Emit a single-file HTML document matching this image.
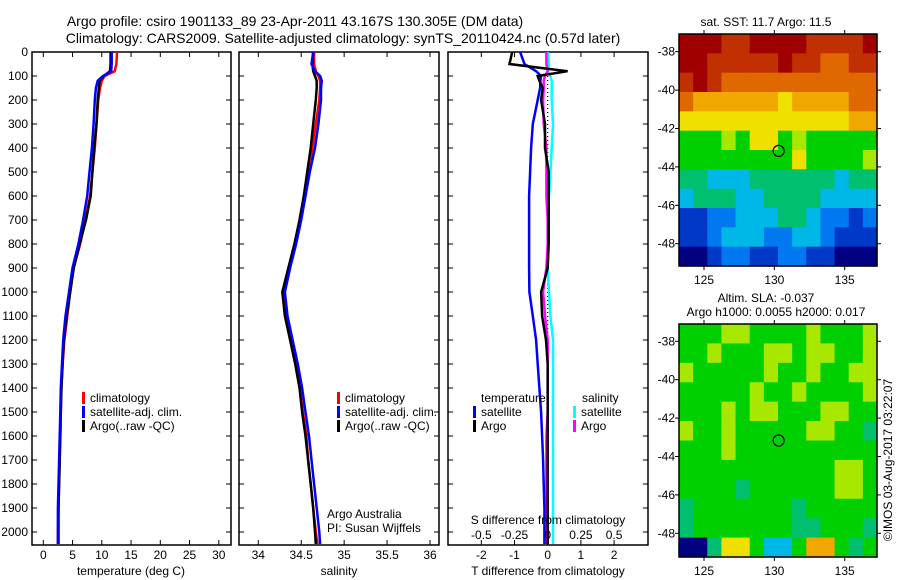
<!DOCTYPE html>
<html><head><meta charset="utf-8"><style>
body{margin:0;background:#fff}
svg{display:block;font-family:"Liberation Sans",sans-serif}
text{fill:#000}
</style></head><body>
<svg id="c" width="900" height="580" viewBox="0 0 900 580">
<text x="295" y="26" font-size="14" text-anchor="middle">Argo profile: csiro 1901133_89 23-Apr-2011 43.167S 130.305E (DM data)</text>
<text x="343" y="43" font-size="14" text-anchor="middle">Climatology: CARS2009. Satellite-adjusted climatology: synTS_20110424.nc (0.57d later)</text>
<text x="766" y="26" font-size="12" text-anchor="middle">sat. SST: 11.7 Argo: 11.5</text>
<text x="766" y="302" font-size="12" text-anchor="middle">Altim. SLA: -0.037</text>
<text x="776" y="316" font-size="12" text-anchor="middle">Argo h1000: 0.0055 h2000: 0.017</text>
<text transform="translate(892,460) rotate(-90)" font-size="12" text-anchor="middle">©IMOS 03-Aug-2017 03:22:07</text>
<g id="layer"></g>
</svg>
<script>
const depths=[0,50,80,100,120,150,200,300,400,500,600,700,800,900,1000,1100,1200,1300,1400,1500,1600,1700,1800,1900,2000,2050];
const tClim=[12.6,12.5,12.2,10.5,10.0,9.7,9.4,9.1,8.8,8.4,8.0,7.2,6.3,5.2,4.6,4.1,3.6,3.3,3.1,3.0,2.9,2.8,2.7,2.6,2.5,2.5];
const tArgo=[11.5,11.5,11.4,10.3,9.6,9.5,9.3,9.1,8.7,8.4,8.1,7.3,6.2,5.2,4.6,4.0,3.5,3.3,3.1,3.0,2.9,2.8,2.7,2.6,2.6,2.6];
const tSat=[11.7,11.7,11.6,10.2,9.3,9.0,8.8,8.6,8.3,7.9,7.5,6.8,6.0,5.0,4.4,3.8,3.4,3.2,3.0,2.9,2.8,2.7,2.6,2.5,2.5,2.5];
const sClim=[34.65,34.65,34.67,34.70,34.72,34.72,34.71,34.67,34.63,34.58,34.54,34.49,34.43,34.36,34.30,34.33,34.39,34.44,34.49,34.52,34.56,34.58,34.61,34.64,34.67,34.69];
const sArgo=[34.64,34.63,34.64,34.66,34.68,34.68,34.67,34.64,34.61,34.57,34.53,34.48,34.42,34.35,34.28,34.31,34.37,34.43,34.48,34.51,34.55,34.58,34.61,34.64,34.66,34.67];
const sSat=[34.64,34.62,34.66,34.72,34.74,34.73,34.73,34.70,34.66,34.60,34.55,34.50,34.44,34.37,34.31,34.34,34.40,34.46,34.51,34.55,34.59,34.62,34.65,34.68,34.71,34.72];
const dTsat=[-0.83,-0.7,-0.35,-0.2,-0.22,-0.23,-0.3,-0.45,-0.5,-0.53,-0.56,-0.56,-0.56,-0.56,-0.55,-0.45,-0.35,-0.3,-0.25,-0.2,-0.17,-0.14,-0.12,-0.1,-0.1,-0.1];
const dTargo=[-1.07,-1.15,0.6,-0.3,-0.25,-0.15,-0.2,-0.08,-0.08,0.03,0.03,0.03,0.03,0.0,-0.2,-0.17,-0.05,0.0,0.0,0.0,0.0,0.0,0.0,0.0,0.0,0.0];
const dSsat=[0.0,0.01,0.0,0.02,0.03,0.03,0.03,0.04,0.03,0.02,0.01,0.0,0.0,0.0,0.01,0.02,0.04,0.04,0.04,0.04,0.04,0.04,0.04,0.04,0.04,0.04];
const dSargo=[-0.01,-0.01,0.0,-0.02,-0.03,-0.03,-0.035,-0.03,-0.01,-0.01,-0.01,0.0,0.0,-0.01,-0.035,-0.02,0.0,0.0,0.0,0.0,-0.01,-0.01,-0.01,-0.01,-0.01,-0.01];
const depthTicks=[0,100,200,300,400,500,600,700,800,900,1000,1100,1200,1300,1400,1500,1600,1700,1800,1900,2000];
const tTicks=[0,5,10,15,20,25,30];
const sTicks=[34,34.5,35,35.5,36];
const sTickLabels=["34","34.5","35","35.5","36"];
const dtTicks=[-2,-1,0,1,2];
const dsTicks=[-0.5,-0.25,0,0.25,0.5];
const dsTickLabels=["-0.5","-0.25","0","0.25","0.5"];
const lonTicks=[125,130,135];
const latTicks=[-38,-40,-42,-44,-46,-48];
const argoLon=130.305, argoLat=-43.167;
const sstGrid=[
[11,11,11,10,10,11,11,11,11,10,10,10,10,11],
[11,11,10,10,10,10,10,11,10,10,9,9,10,10],
[10,11,10,9,9,9,9,9,9,9,9,9,9,9],
[9,8,8,8,8,8,8,7,8,8,8,8,9,9],
[7,7,7,7,7,7,7,7,7,7,7,7,8,8],
[5,5,5,6,5,7,7,5,6,5,5,5,5,5],
[5,5,5,5,5,5,5,5,7,5,5,5,5,6],
[4,4,3,3,3,4,4,4,4,4,4,3,4,4],
[3,4,4,4,3,3,4,4,4,4,3,3,3,3],
[1,1,2,2,3,3,3,4,4,3,2,2,1,2],
[1,1,2,3,3,3,2,2,3,3,2,1,1,1],
[0,0,1,2,2,1,1,2,2,1,1,0,0,0]];
const slaGrid=[
[5,5,5,6,6,5,5,5,5,6,5,5,5,6],
[5,5,6,5,5,5,6,6,5,6,6,5,5,6],
[6,5,5,5,5,5,6,5,5,6,5,5,6,6],
[5,5,5,5,5,6,5,5,6,5,5,5,5,6],
[5,5,5,6,5,6,6,5,5,5,6,6,5,5],
[6,5,5,6,5,5,5,5,5,6,6,5,5,4],
[5,5,5,6,5,5,5,5,5,5,5,5,5,5],
[5,5,5,5,5,5,5,5,5,5,5,6,6,5],
[5,5,5,5,4,5,5,5,5,5,5,6,6,5],
[4,5,5,5,5,5,5,5,4,5,5,5,5,5],
[4,5,5,5,5,5,5,5,4,4,5,5,5,4],
[0,0,4,7,7,5,3,3,5,8,8,5,4,5]];
const palette=["#000080","#0038c8","#0078f0","#00b8e8","#00c070","#00d000","#a8e800","#f0e000","#f0a800","#e06800","#c03000","#a00000"];

const NS="http://www.w3.org/2000/svg";
const L=document.getElementById('layer');
function el(t,a,p){const e=document.createElementNS(NS,t);for(const k in a)e.setAttribute(k,a[k]);(p||L).appendChild(e);return e;}
const Y0=52,YPX=0.24,YB=545;
const yD=d=>Y0+d*YPX;
const xT=v=>43.3+v*5.85;
const xS=v=>258.3+(v-34)*85.85;
const xDT=v=>547.7+v*33.2;
const xDS=v=>547.7+v*132.8;

function panel(x0,x1,name){
  const r=el('rect',{x:x0,y:Y0,width:x1-x0,height:YB-Y0,fill:'none',stroke:'#000','stroke-width':1.5});
  
  
}
function line(xf,vals,color,name){
  let d='';depths.forEach((dp,i)=>{d+=(i?'L':'M')+xf(vals[i]).toFixed(1)+' '+yD(dp).toFixed(1);});
  const p=el('path',{d:d,fill:'none',stroke:color,'stroke-width':2.5,'stroke-linejoin':'miter'});
  
  
}
function xticks(xf,ticks,labels,x0,x1,name,top){
  ticks.forEach((t,i)=>{
    const x=xf(t);
    el('line',{x1:x,x2:x,y1:YB,y2:YB-5,stroke:'#000'});
    if(top!==false) el('line',{x1:x,x2:x,y1:Y0,y2:Y0+5,stroke:'#000'});
    const tx=el('text',{x:x,y:YB+14,'font-size':12,'text-anchor':'middle'});
    tx.textContent=labels?labels[i]:String(t);
    
    
  });
}
function yticks(x0,x1,labels){
  depthTicks.forEach(d=>{
    const y=yD(d);
    el('line',{x1:x0,x2:x0+5,y1:y,y2:y,stroke:'#000'});
    el('line',{x1:x1,x2:x1-5,y1:y,y2:y,stroke:'#000'});
    if(labels){const t=el('text',{x:x0-4,y:y+4,'font-size':12,'text-anchor':'end'});t.textContent=d;
      
      }
  });
}
function txt(x,y,s,name,anchor){const t=el('text',{x:x,y:y,'font-size':12,'text-anchor':anchor||'start'});t.textContent=s;
  
  return t;}
function legend(x,y,color,s,name){
  el('rect',{x:x,y:y-10,width:3,height:12,fill:color});
  txt(x+8,y,s,name);
}
// Panel 1
panel(32,231,'temperature-panel');
yticks(32,231,true);xticks(xT,tTicks,null,32,231,'temperature');
line(xT,tClim,'#f00','temp-climatology-line');
line(xT,tArgo,'#000','temp-argo-line');
line(xT,tSat,'#00f','temp-satellite-line');
txt(131,575,'temperature (deg C)','temperature-axis-title','middle');
legend(82,402,'#f00','climatology','legend-climatology');
legend(82,416,'#00f','satellite-adj. clim.','legend-satellite');
legend(82,430,'#000','Argo(..raw -QC)','legend-argo');
// Panel 2
panel(239,439,'salinity-panel');
yticks(239,439,false);xticks(xS,sTicks,sTickLabels,239,439,'salinity');
line(xS,sClim,'#f00','sal-climatology-line');
line(xS,sArgo,'#000','sal-argo-line');
line(xS,sSat,'#00f','sal-satellite-line');
txt(339,575,'salinity','salinity-axis-title','middle');
legend(337,402,'#f00','climatology','legend-climatology-2');
legend(337,416,'#00f','satellite-adj. clim.','legend-satellite-2');
legend(337,430,'#000','Argo(..raw -QC)','legend-argo-2');
txt(327,518,'Argo Australia','institution-label');
txt(327,532,'PI: Susan Wijffels','pi-label');
// Panel 3
panel(448,648,'difference-panel');
yticks(448,648,false);xticks(xDT,dtTicks,null,448,648,'t-diff',true);
const zx=xDT(0);
el('line',{x1:zx,x2:zx,y1:Y0,y2:YB,stroke:'#000','stroke-dasharray':'1,3','stroke-width':1.2});
line(xDS,dSsat,'#0ff','sal-diff-satellite-line');
line(xDS,dSargo,'#f0f','sal-diff-argo-line');
line(xDT,dTsat,'#00f','temp-diff-satellite-line');
line(xDT,dTargo,'#000','temp-diff-argo-line');
dsTicks.forEach((t,i)=>{const x=xDS(t);txt(x,539,dsTickLabels[i],'s-diff-tick-label','middle');});
txt(548,524,'S difference from climatology','s-diff-axis-title','middle');
txt(548,575,'T difference from climatology','t-diff-axis-title','middle');
txt(481,402,'temperature','legend-temperature-header');
txt(582,402,'salinity','legend-salinity-header');
legend(473,416,'#00f','satellite','legend-t-satellite');
legend(473,430,'#000','Argo','legend-t-argo');
legend(573,416,'#0ff','satellite','legend-s-satellite');
legend(573,430,'#f0f','Argo','legend-s-argo');
// Maps
function map(grid,mx0,my0,mx1,my1,lat38y,lat48y,name){
  const g=el('g',{});
  const rows=grid.length,cols=grid[0].length,cw=(mx1-mx0)/cols,ch=(my1-my0)/rows;
  grid.forEach((row,r)=>row.forEach((v,c)=>{
    const cell=el('rect',{x:mx0+c*cw,y:my0+r*ch,width:cw+0.6,height:ch+0.6,fill:palette[v]},g);
    
    
  }));
  const lx=lon=>704+(lon-125)*14.07;
  const ly=lat=>lat38y+(-38-lat)*(lat48y-lat38y)/10;
  el('rect',{x:mx0,y:my0,width:mx1-mx0,height:my1-my0,fill:'none',stroke:'#000','stroke-width':1.5},g);
  lonTicks.forEach(l=>{const x=lx(l);el('line',{x1:x,x2:x,y1:my0,y2:my0-4,stroke:'#000'},g);el('line',{x1:x,x2:x,y1:my1,y2:my1+4,stroke:'#000'},g);
    const t=txt(x,my1+18,String(l),'lon-tick-label','middle');});
  latTicks.forEach(l=>{const y=ly(l);el('line',{x1:mx0,x2:mx0-4,y1:y,y2:y,stroke:'#000'},g);el('line',{x1:mx1,x2:mx1+4,y1:y,y2:y,stroke:'#000'},g);
    txt(mx0-4,y+4,String(l),'lat-tick-label','end');});
  const c=el('circle',{cx:lx(argoLon),cy:ly(argoLat),r:5.5,fill:'none',stroke:'#000','stroke-width':1.2},g);
  
  
}
map(sstGrid,679,34,877,266,51.7,243.7,'sst-map');
map(slaGrid,679,324,877,557,341.3,533.3,'sla-map');
</script>
</body></html>
